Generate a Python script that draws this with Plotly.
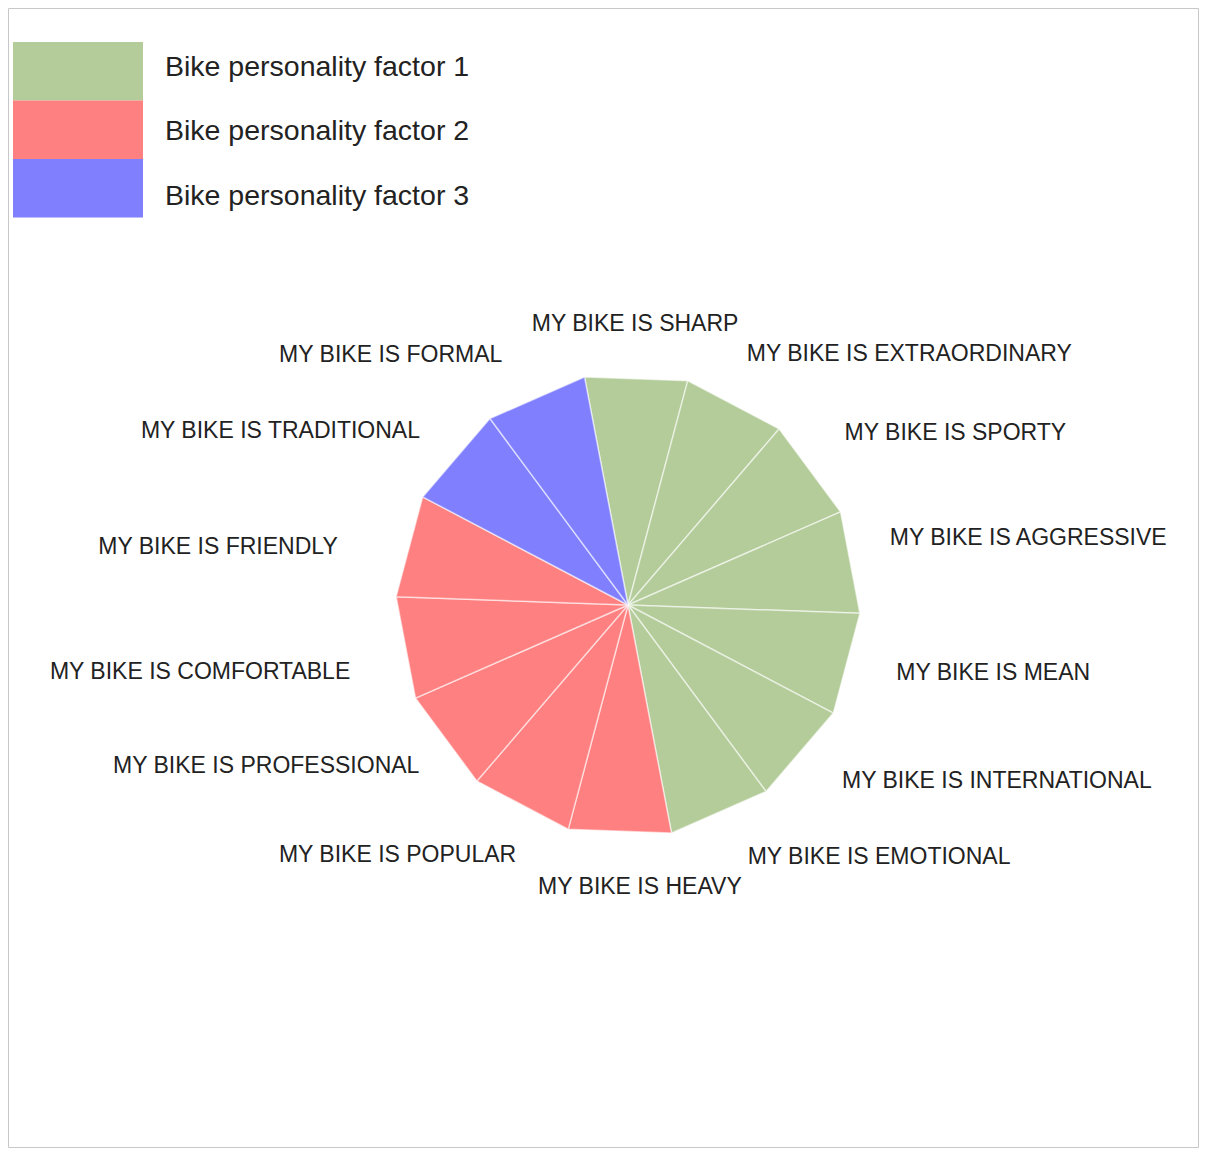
import plotly.graph_objects as go
import numpy as np

# ---- data ----
statements = [
    "MY BIKE IS SHARP", "MY BIKE IS EXTRAORDINARY", "MY BIKE IS SPORTY",
    "MY BIKE IS AGGRESSIVE", "MY BIKE IS MEAN", "MY BIKE IS INTERNATIONAL",
    "MY BIKE IS EMOTIONAL", "MY BIKE IS HEAVY", "MY BIKE IS POPULAR",
    "MY BIKE IS PROFESSIONAL", "MY BIKE IS COMFORTABLE", "MY BIKE IS FRIENDLY",
    "MY BIKE IS TRADITIONAL", "MY BIKE IS FORMAL",
]
slice_values = [1, 1, 1, 1, 1, 1, 1, 1, 1, 1, 1, 1, 1, 1]
slice_factor = [1, 1, 1, 1, 1, 1, 1, 2, 2, 2, 2, 2, 3, 3]
factor_names = ["Bike personality factor 1", "Bike personality factor 2", "Bike personality factor 3"]
factor_colors = ["#b3cc99", "#ff8080", "#8080ff"]

# ---- layout constants (screen px, page body offset 8px) ----
OFF = 8
W, H = 1207 - 2 * OFF, 1156 - 2 * OFF
cx, cy, R = 628, 605, 232
start_angle = -10.8
label_r = 1.21
r_max = 1.45
font_family = "Liberation Sans, Arial, sans-serif"
# per-label pixel nudges (styling) relative to the slice-midpoint anchor
label_dx = [-3, -12, -9, -14, -3, 1, 7, 22, 19, 17, -2, -19, 5, -13]
label_dy = [1, -1, -4, -13, -3, -6, -4, 3, 3, -5, 16, 16, 10, 8]


def px(x):
    return (x - OFF) / W


def py(y):
    return 1 - (y - OFF) / H


total = sum(slice_values)
bounds = start_angle + np.concatenate([[0], np.cumsum(slice_values)]) / total * 360.0

fig = go.Figure()
for i, name in enumerate(statements):
    a0, a1 = bounds[i], bounds[i + 1]
    col = factor_colors[slice_factor[i] - 1]
    fig.add_trace(go.Scatterpolar(
        r=[0, 1, 1, 0], theta=[a0, a0, a1, a1], mode="lines", fill="toself",
        fillcolor=col, line=dict(color="rgba(255,255,255,0.55)", width=1.5),
        hoverinfo="text", text=name, showlegend=False,
    ))

mids = (bounds[:-1] + bounds[1:]) / 2
positions, lab_r, lab_t = [], [], []
for m, dx, dy in zip(mids, label_dx, label_dy):
    a = m % 360
    if a < 10 or a > 350 or 170 < a < 190:
        positions.append("middle center")
    elif a < 180:
        positions.append("middle right")
    else:
        positions.append("middle left")
    # anchor in px relative to centre (x right, y down), then nudge
    ax = label_r * R * np.sin(np.radians(m)) + dx
    ay = -label_r * R * np.cos(np.radians(m)) + dy
    lab_r.append(float(np.hypot(ax, ay) / R))
    lab_t.append(float(np.degrees(np.arctan2(ax, -ay))))

fig.add_trace(go.Scatterpolar(
    r=lab_r, theta=lab_t, mode="text",
    text=statements, textposition=positions, cliponaxis=False,
    textfont=dict(family=font_family, size=23, color="#222222"),
    hoverinfo="skip", showlegend=False,
))

# legend built from shapes + annotations
shapes = []
annotations = []
box_top, box_h = 42, 58.5
text_y = [66, 130, 195]
for i, (nm, col) in enumerate(zip(factor_names, factor_colors)):
    y0 = box_top + i * box_h
    shapes.append(dict(type="rect", xref="paper", yref="paper",
                       x0=px(13), x1=px(143), y0=py(y0 + box_h), y1=py(y0),
                       fillcolor=col, line=dict(width=0), layer="below"))
    annotations.append(dict(xref="paper", yref="paper", x=px(163), y=py(text_y[i]),
                            xanchor="left", yanchor="middle", text=nm, showarrow=False,
                            font=dict(family=font_family, size=28.5, color="#222222")))

# border
shapes.append(dict(type="rect", xref="paper", yref="paper",
                   x0=px(8.5), x1=px(OFF + W - 0.5), y0=py(OFF + H - 0.5), y1=py(8.5),
                   line=dict(color="#c8c8c8", width=1), fillcolor="rgba(0,0,0,0)"))

RD = R * r_max
fig.update_layout(
    width=W, height=H,
    margin=dict(l=0, r=0, t=0, b=0),
    paper_bgcolor="white",
    showlegend=False,
    shapes=shapes,
    annotations=annotations,
    polar=dict(
        domain=dict(x=[px(cx - RD), px(cx + RD)], y=[py(cy + RD), py(cy - RD)]),
        bgcolor="rgba(0,0,0,0)",
        radialaxis=dict(visible=False, range=[0, r_max]),
        angularaxis=dict(visible=False, rotation=90, direction="clockwise"),
    ),
)

fig.write_html("out.html")
